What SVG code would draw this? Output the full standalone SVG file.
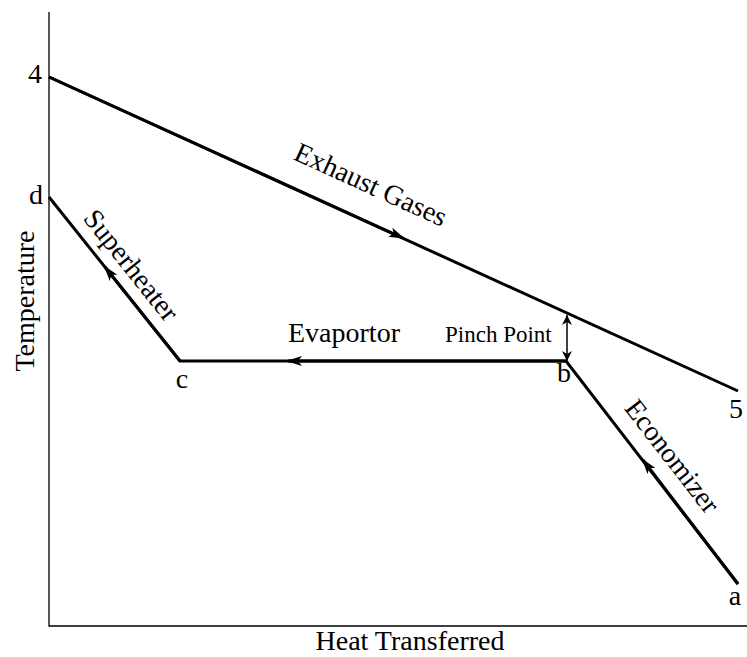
<svg xmlns="http://www.w3.org/2000/svg" width="747" height="657" viewBox="0 0 747 657">
<style>
text{font-family:"Liberation Serif","Times New Roman",serif;fill:#000}
.big{font-size:28px}
.ln{stroke:#000;stroke-width:3;fill:none}
.ax{stroke:#000;stroke-width:1.3;fill:none}
</style>
<defs>
<marker id="ah" markerWidth="16" markerHeight="10" refX="14" refY="5" orient="auto" markerUnits="userSpaceOnUse">
<path d="M0,0 L16,5 L0,10 L4,5 Z" fill="#000"/>
</marker>
<marker id="ps" markerWidth="10" markerHeight="10" refX="10" refY="5" orient="auto" markerUnits="userSpaceOnUse">
<path d="M0,0 L10,5 L0,10 L3,5 Z" fill="#000"/>
</marker>
</defs>
<rect width="747" height="657" fill="#fff"/>
<g id="axes">
<path class="ax" d="M49,12 V626 H747"/>
<text class="big" x="410" y="650" text-anchor="middle">Heat Transferred</text>
<text class="big" transform="translate(34,301) rotate(-90)" text-anchor="middle">Temperature</text>
</g>
<g id="connectors">
<path class="ln" d="M49,77 L738,391"/>
<path class="ln" d="M49,77 L403,238" marker-end="url(#ah)"/>
<path class="ln" d="M49,197 L180,361 L566,361 L738,584"/>
<path class="ln" d="M180,361 L105,267" marker-end="url(#ah)"/>
<path class="ln" d="M566,361 L288,361" marker-end="url(#ah)"/>
<path class="ln" d="M738,584 L643,460" marker-end="url(#ah)"/>
<path stroke="#000" stroke-width="1.5" fill="none" d="M567,338 L567,315" marker-end="url(#ps)"/>
<path stroke="#000" stroke-width="1.5" fill="none" d="M567,338 L567,361" marker-end="url(#ps)"/>
</g>
<g id="labels">
<text class="big" x="35" y="83" text-anchor="middle">4</text>
<text class="big" x="36" y="204" text-anchor="middle">d</text>
<text class="big" x="182" y="388" text-anchor="middle">c</text>
<text class="big" x="564" y="382" text-anchor="middle">b</text>
<text class="big" x="736" y="418" text-anchor="middle">5</text>
<text class="big" x="735" y="605" text-anchor="middle">a</text>
<text class="big" x="288" y="342">Evaportor</text>
<text x="445" y="342" font-size="23">Pinch Point</text>
<text class="big" transform="translate(367,193) rotate(24.5)" text-anchor="middle">Exhaust Gases</text>
<text class="big" transform="translate(124,271) rotate(51.4)" text-anchor="middle">Superheater</text>
<text class="big" transform="translate(665,462) rotate(52.2)" text-anchor="middle">Economizer</text>
</g>
</svg>
